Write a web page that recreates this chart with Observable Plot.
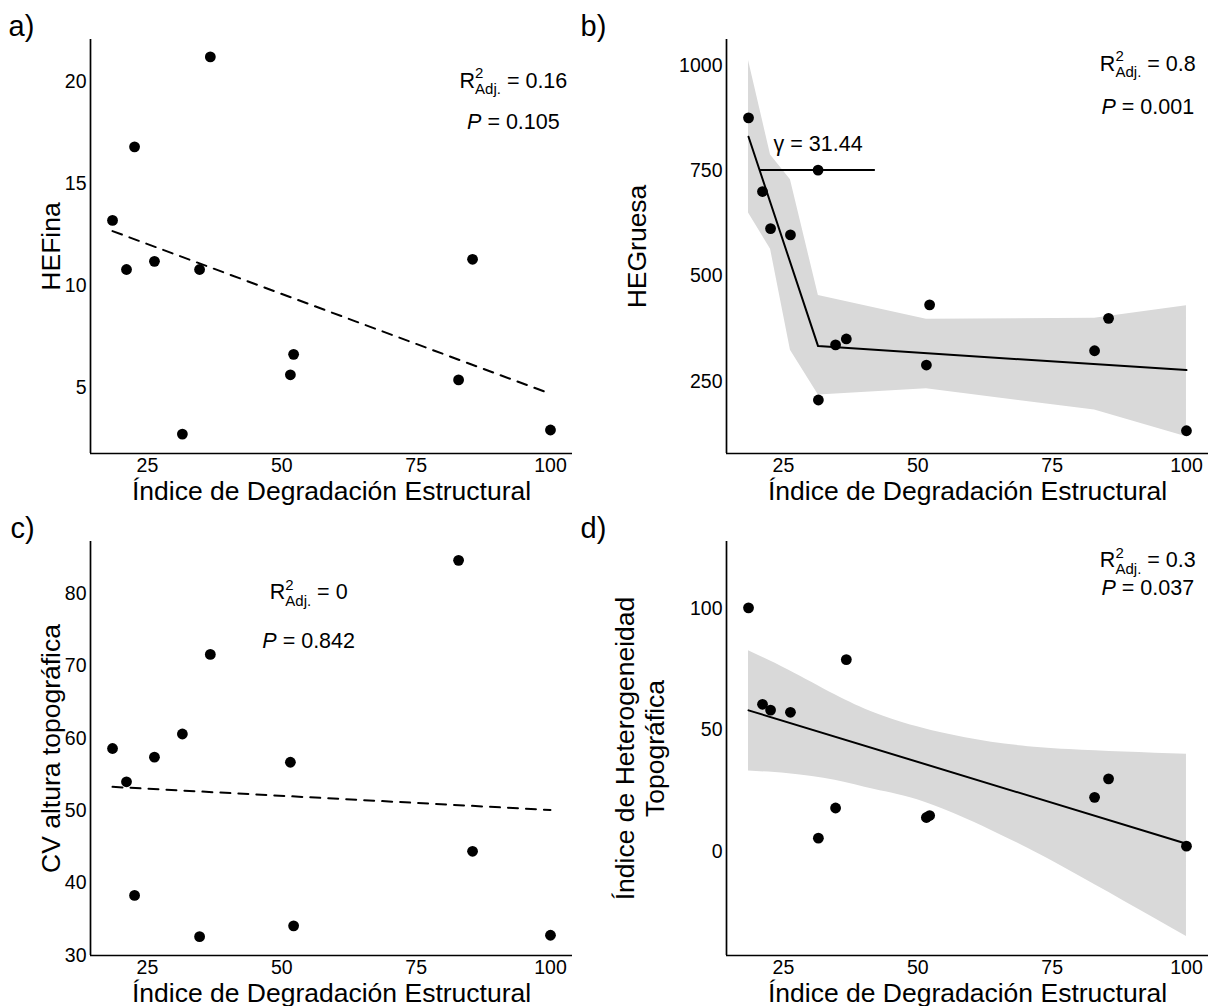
<!DOCTYPE html>
<html>
<head>
<meta charset="utf-8">
<script src="https://cdn.jsdelivr.net/npm/d3@7"></script>
<script src="https://cdn.jsdelivr.net/npm/@observablehq/plot@0.6"></script>
<style>
  html, body { margin: 0; padding: 0; background: #ffffff; }
  #wrap { position: relative; width: 1212px; height: 1006px; overflow: hidden; background: #ffffff; }
  .panel { position: absolute; }
</style>
</head>
<body>
<div id="wrap"></div>
<script>
// ---------------- data ----------------
const indice   = [18.5, 21.1, 22.6, 26.3, 31.5, 34.7, 36.7, 51.6, 52.2, 82.9, 85.5, 100];
const heFina   = [13.2, 10.8, 16.8, 11.2, 2.75, 10.8, 21.2, 5.65, 6.65, 5.4, 11.3, 2.95];
const heGruesa = [876, 701, 613, 598, 206, 337, 351, 289, 432, 323, 400, 133];
const cvAltura = [58.6, 54.0, 38.3, 57.4, 60.6, 32.6, 71.6, 56.7, 34.1, 84.6, 44.4, 32.8];
const iht      = [100.3, 60.6, 58.2, 57.3, 5.5, 17.9, 79.0, 14.0, 14.8, 22.3, 29.9, 2.2];

// fitted lines / bands
const fitAX = [18.5, 100],        fitAY = [12.68, 4.72];
const segBX = [18.5, 31.44, 100], segBY = [831, 334, 277];
const bandBX  = [18.5, 22.6, 26.3, 31.5, 51.6, 82.9, 100];
const bandBLo = [650, 564, 324, 218, 233, 182, 119];
const bandBHi = [1012, 788, 729, 454, 398, 400, 430];
const breakPsi = [31.44], breakY = [752], breakLo = [20.7], breakHi = [42.1];
const fitCX = [18.5, 100],        fitCY = [53.3, 50.1];
const fitDX = [18.5, 100],        fitDY = [58.1, 3.2];
const bandDX  = [18.5, 26, 34.6, 42, 51.3, 63.7, 78.2, 100];
const bandDLo = [33.1, 32.0, 29.3, 25.5, 20.3, 8.7, -7.8, -35.0];
const bandDHi = [82.6, 74.6, 64.5, 57.0, 50.5, 45.0, 42.0, 40.0];

const xTicks  = [25, 50, 75, 100];
const yTicksA = [5, 10, 15, 20];
const yTicksB = [250, 500, 750, 1000];
const yTicksC = [30, 40, 50, 60, 70, 80];
const yTicksD = [0, 50, 100];

const statsA = ["R²Adj. = 0.16", "P = 0.105"];
const statsB = ["R²Adj. = 0.8", "P = 0.001"];
const statsC = ["R²Adj. = 0", "P = 0.842"];
const statsD = ["R²Adj. = 0.3", "P = 0.037"];
const psiLabel = "γ = 31.44";

const xTitle = "Índice de Degradación Estructural";

// --------------- helpers ---------------
const FONT = '"Liberation Sans", Arial, Helvetica, sans-serif';
const X_DOMAIN = [14.4, 104.1];
const zip = (xs, ys) => xs.map((x, i) => ({x, y: ys[i]}));
const pts = ys => indice.map((x, i) => ({x, y: ys[i]}));
const band = (xs, lo, hi) => xs.map((x, i) => ({x, lo: lo[i], hi: hi[i]}));

function richText(svg) {
  d3.select(svg).selectAll("text").each(function () {
    const s = this.textContent;
    let m;
    if ((m = s.match(/^R²Adj\. = (.+)$/))) {
      const t = d3.select(this).text(null);
      t.append("tspan").text("R");
      t.append("tspan").attr("dy", -9.5).attr("font-size", 15).text("2");
      t.append("tspan").attr("dx", -8.3).attr("dy", 16).attr("font-size", 15).text("Adj.");
      t.append("tspan").attr("dy", -6.5).text(" = " + m[1]);
    } else if ((m = s.match(/^P = (.+)$/))) {
      const t = d3.select(this).text(null);
      t.append("tspan").attr("font-style", "italic").text("P");
      t.append("tspan").text(" = " + m[1]);
    }
  });
}

function panel(cfg) {
  const {left, top, width, ml, mr, yDomain, yTicks, yTitle, yTitleDx, tag, tagDx, marks, stats, statX, statY} = cfg;
  const svg = Plot.plot({
    width, height: 502,
    marginTop: 39, marginBottom: 49, marginLeft: ml, marginRight: mr,
    style: {fontFamily: FONT, fontSize: "19.5px", color: "#000", background: "transparent", overflow: "visible"},
    x: {domain: X_DOMAIN, ticks: xTicks, tickSize: 0, tickPadding: 5, tickFormat: d => String(d), label: null},
    y: {domain: yDomain, ticks: yTicks, tickSize: 0, tickPadding: 4, tickFormat: d => String(d), label: null},
    marks: [
      ...marks,
      Plot.ruleX([X_DOMAIN[0]], {stroke: "#000", strokeWidth: 1.7}),
      Plot.ruleY([yDomain[0]], {stroke: "#000", strokeWidth: 1.7}),
      Plot.text(stats, {x: statX, y: (d, i) => statY[i], text: d => d, lineAnchor: "bottom", fontSize: 21.5, fill: "#000"}),
      Plot.text([xTitle], {frameAnchor: "bottom", dy: 46, lineAnchor: "bottom", fontSize: 26.5, fill: "#000"}),
      Plot.text([yTitle], {frameAnchor: "left", dx: yTitleDx, rotate: -90, textAnchor: "middle", lineAnchor: "middle", fontSize: 26.5, lineHeight: 1.13, fill: "#000"}),
      Plot.text([tag], {frameAnchor: "top-left", dx: tagDx, dy: -4, lineAnchor: "bottom", textAnchor: "start", fontSize: 29, fill: "#000"})
    ]
  });
  richText(svg);
  const div = document.createElement("div");
  div.className = "panel";
  div.style.left = left + "px";
  div.style.top = top + "px";
  div.appendChild(svg);
  document.getElementById("wrap").appendChild(div);
}

const dotOpts = {x: "x", y: "y", r: 5.4, fill: "#000", stroke: "none"};

// a) HEFina
panel({
  left: 0, top: 0, width: 578, ml: 90, mr: 6,
  yDomain: [1.8, 22.05], yTicks: yTicksA, yTitle: "HEFina", yTitleDx: -40,
  tag: "a)", tagDx: -82,
  stats: statsA, statX: 93.1, statY: [19.68, 17.65],
  marks: [
    Plot.line(zip(fitAX, fitAY), {x: "x", y: "y", stroke: "#000", strokeWidth: 2, strokeDasharray: "10,8"}),
    Plot.dot(pts(heFina), dotOpts)
  ]
});

// b) HEGruesa
panel({
  left: 578, top: 0, width: 634, ml: 148, mr: 4,
  yDomain: [79, 1062], yTicks: yTicksB, yTitle: "HEGruesa", yTitleDx: -90,
  tag: "b)", tagDx: -146,
  stats: statsB, statX: 92.8, statY: [988, 886],
  marks: [
    Plot.areaY(band(bandBX, bandBLo, bandBHi), {x: "x", y1: "lo", y2: "hi", fill: "#d9d9d9"}),
    Plot.line(zip(segBX, segBY), {x: "x", y: "y", stroke: "#000", strokeWidth: 2}),
    Plot.ruleY(breakPsi.map((p, i) => ({lo: breakLo[i], hi: breakHi[i], y: breakY[i]})), {x1: "lo", x2: "hi", y: "y", stroke: "#000", strokeWidth: 2}),
    Plot.dot(pts(heGruesa), dotOpts),
    Plot.dot(breakPsi.map((p, i) => ({x: p, y: breakY[i]})), dotOpts),
    Plot.text([psiLabel], {x: breakPsi[0], y: 798, lineAnchor: "bottom", fontSize: 21.5, fill: "#000"})
  ]
});

// c) CV altura topográfica
panel({
  left: 0, top: 502, width: 578, ml: 90, mr: 6,
  yDomain: [30, 87.2], yTicks: yTicksC, yTitle: "CV altura topográfica", yTitleDx: -40,
  tag: "c)", tagDx: -80,
  stats: statsC, statX: 55.0, statY: [79.2, 72.55],
  marks: [
    Plot.line(zip(fitCX, fitCY), {x: "x", y: "y", stroke: "#000", strokeWidth: 2, strokeDasharray: "10,8"}),
    Plot.dot(pts(cvAltura), dotOpts)
  ]
});

// d) Índice de Heterogeneidad Topográfica
panel({
  left: 578, top: 502, width: 634, ml: 148, mr: 4,
  yDomain: [-42.8, 127.6], yTicks: yTicksD, yTitle: "Índice de Heterogeneidad\nTopográfica", yTitleDx: -87,
  tag: "d)", tagDx: -146,
  stats: statsD, statX: 92.8, statY: [116.9, 105.4],
  marks: [
    Plot.areaY(band(bandDX, bandDLo, bandDHi), {x: "x", y1: "lo", y2: "hi", fill: "#d9d9d9", curve: "natural"}),
    Plot.line(zip(fitDX, fitDY), {x: "x", y: "y", stroke: "#000", strokeWidth: 2}),
    Plot.dot(pts(iht), dotOpts)
  ]
});
</script>
</body>
</html>
